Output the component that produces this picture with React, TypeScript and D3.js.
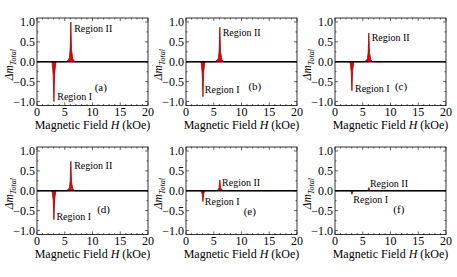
import React, { useEffect, useRef } from 'react';
import * as d3 from 'd3';

// magnetic field samples (kOe) shared by all panels
const field = [0, 2.5, 2.75, 2.92, 3.05, 3.18, 3.4, 5.3, 5.6, 5.85, 5.98, 6.1, 6.22, 6.45, 6.8, 20];

// delta m total for each panel
const dmA = [0, 0, -0.04, -0.35, -1.0, -0.3, 0, 0, 0.04, 0.1, 0.35, 1.0, 0.3, 0.07, 0, 0];
const dmB = [0, 0, -0.04, -0.3, -0.88, -0.26, 0, 0, 0.04, 0.09, 0.3, 0.87, 0.26, 0.06, 0, 0];
const dmC = [0, 0, -0.03, -0.25, -0.73, -0.22, 0, 0, 0.03, 0.08, 0.25, 0.72, 0.22, 0.05, 0, 0];
const dmD = [0, 0, -0.03, -0.25, -0.73, -0.22, 0, 0, 0.03, 0.08, 0.25, 0.74, 0.22, 0.05, 0, 0];
const dmE = [0, 0, -0.01, -0.09, -0.27, -0.08, 0, 0, 0.01, 0.03, 0.09, 0.27, 0.08, 0.02, 0, 0];
const dmF = [0, 0, 0, -0.03, -0.09, -0.03, 0, 0, 0, 0.01, 0.03, 0.08, 0.03, 0, 0, 0];

const panelNames = ['(a)', '(b)', '(c)', '(d)', '(e)', '(f)'];
const xTicks = [0, 5, 10, 15, 20];
const yTicks = [-1.0, -0.5, 0.0, 0.5, 1.0];

const series = [dmA, dmB, dmC, dmD, dmE, dmF];

// label anchors in data coords [H, dm]
const regionIIPos = [[6.7, 0.83], [6.6, 0.74], [6.6, 0.62], [6.7, 0.64], [6.5, 0.22], [6.3, 0.17]];
const regionIPos = [[3.65, -0.88], [3.4, -0.71], [3.6, -0.66], [3.5, -0.65], [3.4, -0.28], [3.3, -0.21]];
const namePos = [[11.5, -0.64], [12.4, -0.62], [11.9, -0.63], [12.0, -0.46], [11.5, -0.53], [11.5, -0.48]];

const App = () => {
  const ref = useRef(null);

  useEffect(() => {
    const svg = d3.select(ref.current);
    svg.selectAll('*').remove();

    const font = "'Liberation Serif', 'DejaVu Serif', serif";
    const colLeft = [37, 186, 335];
    const rowTop = [18, 147];
    const w = 111;
    const h = 87.5;

    series.forEach((vals, i) => {
      const col = i % 3;
      const row = Math.floor(i / 3);
      const g = svg.append('g')
        .attr('transform', `translate(${colLeft[col]},${rowTop[row]})`)
        .style('font-family', font);

      const x = d3.scaleLinear().domain([0, 20]).range([0, w]);
      const y = d3.scaleLinear().domain([-1.1, 1.1]).range([h, 0]);

      const data = field.map((f, k) => ({ f, v: vals[k] }));

      // spikes
      g.append('path')
        .datum(data)
        .attr('d', d3.area<any>().x(d => x(d.f)).y0(y(0)).y1(d => y(d.v)))
        .attr('fill', '#f00000');
      g.append('path')
        .datum(data)
        .attr('d', d3.line<any>().x(d => x(d.f)).y(d => y(d.v)))
        .attr('fill', 'none')
        .attr('stroke', '#a00000')
        .attr('stroke-width', 0.8);

      // zero line
      g.append('line')
        .attr('x1', 0).attr('x2', w)
        .attr('y1', y(0)).attr('y2', y(0))
        .attr('stroke', '#000')
        .attr('stroke-width', 1.3);

      // frame
      g.append('rect')
        .attr('width', w).attr('height', h)
        .attr('fill', 'none')
        .attr('stroke', '#000')
        .attr('stroke-width', 0.8);

      // ticks inside the frame, all four sides
      const xMinor = d3.range(0, 20.01, 1);
      const yMinor = d3.range(-1.0, 1.01, 0.25);
      xMinor.forEach(t => {
        const len = t % 5 === 0 ? 3 : 1.5;
        g.append('line').attr('x1', x(t)).attr('x2', x(t)).attr('y1', h).attr('y2', h - len)
          .attr('stroke', '#000').attr('stroke-width', 0.6);
        g.append('line').attr('x1', x(t)).attr('x2', x(t)).attr('y1', 0).attr('y2', len)
          .attr('stroke', '#000').attr('stroke-width', 0.6);
      });
      yMinor.forEach(t => {
        const len = Math.abs(t * 2 - Math.round(t * 2)) < 1e-6 ? 3 : 1.5;
        g.append('line').attr('x1', 0).attr('x2', len).attr('y1', y(t)).attr('y2', y(t))
          .attr('stroke', '#000').attr('stroke-width', 0.6);
        g.append('line').attr('x1', w).attr('x2', w - len).attr('y1', y(t)).attr('y2', y(t))
          .attr('stroke', '#000').attr('stroke-width', 0.6);
      });

      // tick labels
      g.selectAll('.xt').data(xTicks).enter().append('text')
        .attr('x', d => x(d)).attr('y', h + 10.5)
        .attr('text-anchor', 'middle')
        .attr('font-size', 12)
        .text(d => d);
      g.selectAll('.yt').data(yTicks).enter().append('text')
        .attr('x', -2).attr('y', d => y(d) + 4)
        .attr('text-anchor', 'end')
        .attr('font-size', 12)
        .text(d => d3.format('.1f')(d));

      // x title
      const xt = g.append('text')
        .attr('x', w / 2).attr('y', h + 23)
        .attr('text-anchor', 'middle')
        .attr('font-size', 12);
      xt.append('tspan').text('Magnetic Field ');
      xt.append('tspan').attr('font-style', 'italic').text('H');
      xt.append('tspan').text(' (kOe)');

      // y title
      const yt = g.append('text')
        .attr('transform', `translate(-24,${y(0) + 3}) rotate(-90)`)
        .attr('text-anchor', 'middle')
        .attr('font-style', 'italic').attr('font-size', 11.5);
      yt.append('tspan').text('Δm');
      yt.append('tspan').attr('font-size', 8).attr('dy', 2.5).text('Total');

      // annotations
      g.append('text')
        .attr('x', x(regionIIPos[i][0])).attr('y', y(regionIIPos[i][1]) + 3.5)
        .attr('font-size', 10)
        .text('Region II');
      g.append('text')
        .attr('x', x(regionIPos[i][0])).attr('y', y(regionIPos[i][1]) + 3.5)
        .attr('font-size', 10)
        .text('Region I');
      g.append('text')
        .attr('x', x(namePos[i][0])).attr('y', y(namePos[i][1]) + 3.5)
        .attr('text-anchor', 'middle')
        .attr('font-size', 11)
        .text(panelNames[i]);
    });
  }, []);

  return (
    <svg ref={ref} width={457} height={277}
      style={{ position: 'absolute', left: 0, top: 0, background: '#fff' }} />
  );
};

export default App;
